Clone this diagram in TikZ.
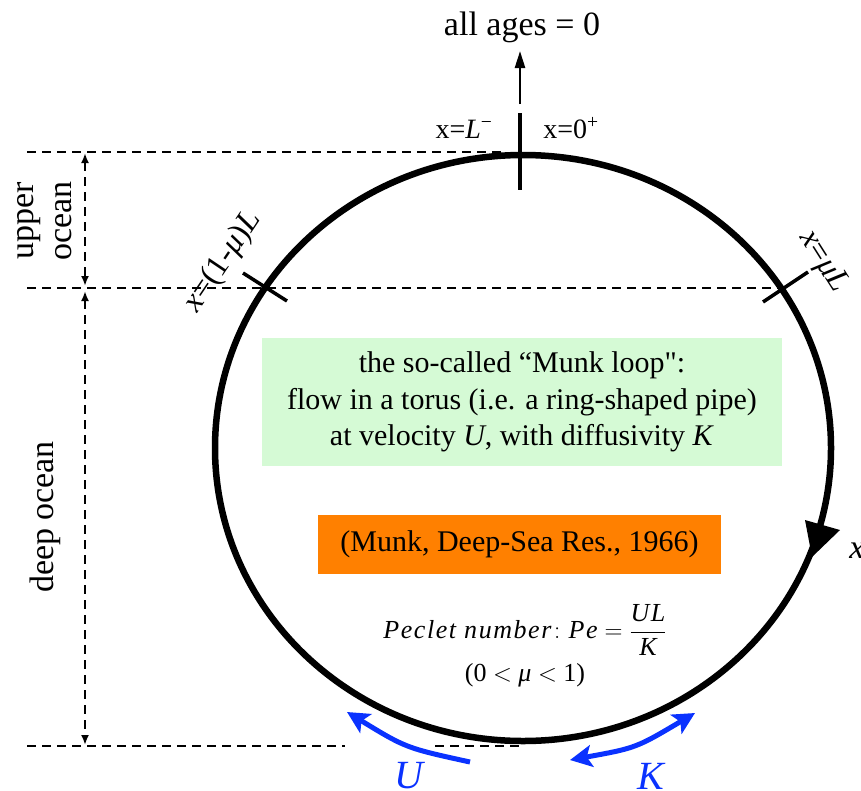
\documentclass[tikz,border=0pt]{standalone}
\usepackage{fontspec}
\setmainfont{Liberation Serif}
\newfontfamily\qfont{Liberation Serif}
\usepackage{amsmath}
\usetikzlibrary{arrows.meta,calc}
\definecolor{boxgreen}{RGB}{213,250,213}
\definecolor{boxorange}{RGB}{255,128,0}
\definecolor{arrblue}{RGB}{10,50,255}
\newcommand{\fsz}[2]{\fontsize{#1}{#2}\selectfont}
\newcommand{\mi}[1]{\text{\itshape\addfontfeature{LetterSpace=6}#1}}
\begin{document}
\begin{tikzpicture}[x=1pt,y=-1pt,
  dashln/.style={line width=2.7pt, dash pattern=on 9pt off 6pt},
  tickln/.style={line width=3.5pt},
  dimarrow/.style={dashln, {Latex[length=10pt,width=8pt]}-{Latex[length=10pt,width=8pt]}},
  blueln/.style={arrblue, line width=5pt},
  lbl/.style={inner sep=0pt}]
\path[use as bounding box, clip] (0,0) rectangle (861,790);

% boxes
\node[fill=boxgreen, minimum width=520pt, minimum height=128pt, align=center,
      font=\fsz{30}{36.5}] (munk) at (522,402)
  {the so-called “Munk loop{\qfont"}:\\flow in a torus (i.e. a ring-shaped pipe)\\at velocity \textit{U}, with diffusivity \textit{K}};
\node[fill=boxorange, minimum width=403pt, minimum height=59pt, font=\fsz{30}{36}] (ref) at (519.5,544.5)
  {(Munk, Deep-Sea Res., 1966)};

% dashed level lines
\coordinate (d1a) at (27,152); \coordinate (d1b) at (503,152);
\coordinate (d2a) at (27,288); \coordinate (d2b) at (782,288);
\coordinate (d3a) at (27,746); \coordinate (d3b) at (345,746);
\coordinate (d3c) at (435,746); \coordinate (d3d) at (522,746);
\draw[dashln] (d1a) -- (d1b);
\draw[dashln] (d2a) -- (d2b);
\draw[dashln] (d3a) -- (d3b);
\draw[dashln] (d3c) -- (d3d);

% dimension arrows
\coordinate (v1) at (85,153); \coordinate (v2) at (85,286);
\coordinate (v3) at (85,291); \coordinate (v4) at (85,745);
\draw[dimarrow] (v1) -- (v2);
\draw[dimarrow] (v3) -- (v4);
\node[rotate=90, align=center, font=\fsz{34}{38}] (upper) at (45,221) {upper\\ocean};
\node[rotate=90, font=\fsz{34}{38}] (deep) at (45,517) {deep ocean};

% loop
\coordinate (C) at (523,448);
\draw[line width=6.5pt] (C) ellipse [x radius=308, y radius=293];
\fill (805,520) -- (840,530) -- (812,557) -- cycle;
\node[font=\fsz{34}{40}\itshape] (xlab) at (857,551) {x};

% ticks
\coordinate (t1) at (520,113); \coordinate (t2) at (520,190);
\draw[tickln] (t1) -- (t2);
\coordinate (l1) at (243,273); \coordinate (l2) at (287,301);
\draw[tickln] (l1) -- (l2);
\coordinate (r1) at (763,302); \coordinate (r2) at (808,272);
\draw[tickln] (r1) -- (r2);

% top arrow
\node[lbl, font=\fsz{34}{40}] (ages) at (522,27) {all ages = 0};
\coordinate (a1) at (520,104); \coordinate (a2) at (520,51);
\draw[line width=2.5pt, -{Triangle[length=17pt,width=10pt]}] (a1) -- (a2);
\node[anchor=base, lbl, font=\fsz{28}{32}] (xL) at (464,138) {x=\textit{L}\textsuperscript{−}};
\node[anchor=base, lbl, font=\fsz{28}{32}] (x0) at (571,138) {x=0\textsuperscript{+}};

% tick labels
\node[rotate=56, font=\fsz{32}{36}] (lmu) at (223,262) {\textit{x}=(1-\textit{μ})\textit{L}};
\node[rotate=-57.6, font=\fsz{32}{36}] (rmu) at (823,262) {\textit{x}=\textit{μL}};

% Peclet
\node[font=\fsz{26}{30}] (pe) at (525,630) {$\mi{Peclet number}\colon \mi{Pe}=\dfrac{\mi{UL}}{\mi{K}}$};
\node[font=\fsz{26}{30}] (mu) at (525,675) {(0 $<$ \textit{μ} $<$ 1)};

% blue arrows
\coordinate (u1) at (470,762); \coordinate (u2) at (347,712);
\draw[blueln, -{Stealth[length=22pt,width=22pt,inset=5pt]}] (u1) .. controls (406,748) .. (u2);
\coordinate (k1) at (570,760); \coordinate (k2) at (695,713);
\draw[blueln, {Stealth[length=22pt,width=22pt,inset=5pt]}-{Stealth[length=22pt,width=22pt,inset=5pt]}] (k1) .. controls (636,748) .. (k2);
\node[text=arrblue, font=\fsz{40}{44}\itshape] (U) at (409,776) {U};
\node[text=arrblue, font=\fsz{40}{44}\itshape] (K) at (651,776) {K};
\end{tikzpicture}
\end{document}
